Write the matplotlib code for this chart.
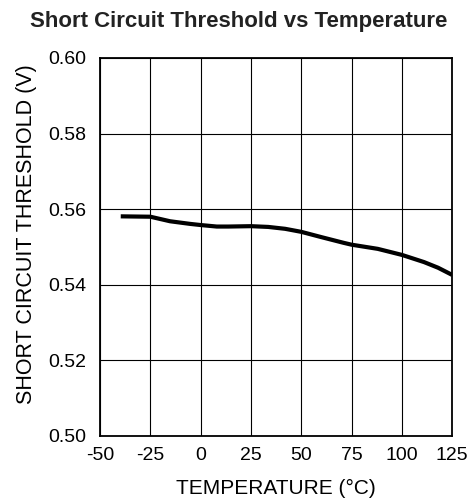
import numpy as np
import matplotlib.pyplot as plt

# Chart data
tempC = [-39.7, -25, -15.2, -5.2, 0, 8, 13.7, 25, 33.6, 42, 50, 60, 71,
         75, 88, 100, 111, 118, 125]
thresholdV = [0.5581, 0.5580, 0.5568, 0.5561, 0.5558, 0.5554, 0.5554, 0.5555,
              0.5553, 0.5548, 0.5540, 0.5526, 0.5511, 0.5506, 0.5495, 0.5479,
              0.5460, 0.5445, 0.5426]
xTicks = [-50, -25, 0, 25, 50, 75, 100, 125]
yTicks = [0.50, 0.52, 0.54, 0.56, 0.58, 0.60]

plt.rcParams['font.family'] = ['Liberation Sans', 'DejaVu Sans']

fig = plt.figure(figsize=(4.74, 5.04), dpi=100)
ax = fig.add_axes([0.211, 0.135, 0.743, 0.750])

# Curve
ax.plot(tempC, thresholdV, color='black', linewidth=3.0,
        solid_capstyle='butt', solid_joinstyle='round')

# Axes & grid
ax.set_xlim(-50, 125)
ax.set_ylim(0.50, 0.60)
ax.set_xticks(xTicks)
ax.set_yticks(yTicks)
ax.set_xticklabels([str(t) for t in xTicks])
ax.set_yticklabels(['%.2f' % v for v in yTicks])
ax.grid(True, color='black', linewidth=0.8)
ax.tick_params(length=0, labelsize=14)
ax.tick_params(axis='x', pad=8)
ax.tick_params(axis='y', pad=10)
for spine in ax.spines.values():
    spine.set_linewidth(1.3)

# Labels & title
fig.text(0.582, 0.030, 'TEMPERATURE (°C)', ha='center', va='center', fontsize=15)
fig.text(0.055, 0.535, 'SHORT CIRCUIT THRESHOLD (V)', ha='center', va='center',
         rotation=90, fontsize=15.5)
fig.text(0.503, 0.947, 'Short Circuit Threshold vs Temperature', ha='center',
         va='baseline', fontsize=16, fontweight='bold', color='#222222')

fig.savefig('out.png', dpi=100)
